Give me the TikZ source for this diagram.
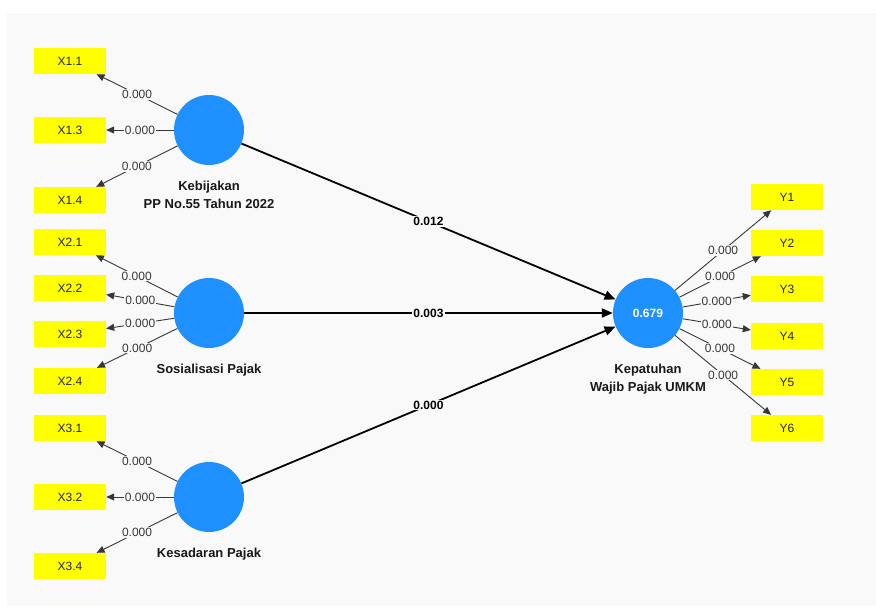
\documentclass[tikz,border=0pt]{standalone}
\usepackage{fontspec}
\setmainfont{Liberation Sans}
\usetikzlibrary{positioning, arrows.meta}
\definecolor{panelgray}{RGB}{249, 249, 249}
\definecolor{lvblue}{RGB}{30, 144, 255}
\definecolor{itemyellow}{RGB}{255, 255, 0}
\definecolor{loadgray}{RGB}{55, 55, 55}

\begin{document}
\begin{tikzpicture}[
    x=1pt, y=-1pt,
    node distance=16pt,
    latent/.style={
        circle,
        fill=lvblue,
        minimum size=70pt,
        inner sep=0pt,
        text=white,
        font=\fontsize{12}{14}\selectfont\bfseries
    },
    indicator/.style={
        rectangle,
        fill=itemyellow,
        minimum width=72pt,
        minimum height=26pt,
        inner sep=0pt,
        text=black!85,
        font=\fontsize{12}{14}\selectfont
    },
    lvlabel/.style={text=black!90, inner sep=0pt, align=center, font=\fontsize{13}{18}\selectfont\bfseries},
    loadarrow/.style={draw=loadgray, line width=0.9pt, -{Triangle[length=8pt, width=7pt]}},
    patharrow/.style={draw=black, line width=1.8pt, -{Triangle[length=11pt, width=9pt]}},
    loadlabel/.style={fill=panelgray, inner sep=1pt, text=loadgray, font=\fontsize{12}{14}\selectfont},
    pathlabel/.style={fill=panelgray, inner sep=1pt, text=black, font=\fontsize{12}{14}\selectfont\bfseries}
]

    \useasboundingbox (0,0) rectangle (876,606);
    \fill[panelgray] (7,13) rectangle (876,606);

    % --- Latent variables ---
    \node[latent] (kb) at (209,130) {};
    \node[latent] (sp) at (209,313) {};
    \node[latent] (kp) at (209,497) {};
    \node[latent] (kw) at (648,313) {0.679};

    \node[lvlabel, below=of kb] (kblabel) {Kebijakan\\PP No.55 Tahun 2022};
    \node[lvlabel, below=of sp] (splabel) {Sosialisasi Pajak};
    \node[lvlabel, below=of kp] (kplabel) {Kesadaran Pajak};
    \node[lvlabel, below=of kw] (kwlabel) {Kepatuhan\\Wajib Pajak UMKM};

    % --- Indicators X ---
    \node[indicator] (x11) at (70,61) {X1.1};
    \node[indicator] (x13) at (70,130) {X1.3};
    \node[indicator] (x14) at (70,200) {X1.4};

    \node[indicator] (x21) at (70,242) {X2.1};
    \node[indicator] (x22) at (70,288) {X2.2};
    \node[indicator] (x23) at (70,334) {X2.3};
    \node[indicator] (x24) at (70,381) {X2.4};

    \node[indicator] (x31) at (70,428) {X3.1};
    \node[indicator] (x32) at (70,497) {X3.2};
    \node[indicator] (x34) at (70,566) {X3.4};

    % --- Indicators Y ---
    \node[indicator] (y1) at (787,197) {Y1};
    \node[indicator] (y2) at (787,243) {Y2};
    \node[indicator] (y3) at (787,289) {Y3};
    \node[indicator] (y4) at (787,336) {Y4};
    \node[indicator] (y5) at (787,382) {Y5};
    \node[indicator] (y6) at (787,428) {Y6};

    % Loadings
    \draw[loadarrow] (kb) -- node[loadlabel] {0.000} (x11);
    \draw[loadarrow] (kb) -- node[loadlabel] {0.000} (x13);
    \draw[loadarrow] (kb) -- node[loadlabel] {0.000} (x14);

    \draw[loadarrow] (sp) -- node[loadlabel] {0.000} (x21);
    \draw[loadarrow] (sp) -- node[loadlabel] {0.000} (x22);
    \draw[loadarrow] (sp) -- node[loadlabel] {0.000} (x23);
    \draw[loadarrow] (sp) -- node[loadlabel] {0.000} (x24);

    \draw[loadarrow] (kp) -- node[loadlabel] {0.000} (x31);
    \draw[loadarrow] (kp) -- node[loadlabel] {0.000} (x32);
    \draw[loadarrow] (kp) -- node[loadlabel] {0.000} (x34);

    \draw[loadarrow] (kw) -- node[loadlabel] {0.000} (y1);
    \draw[loadarrow] (kw) -- node[loadlabel] {0.000} (y2);
    \draw[loadarrow] (kw) -- node[loadlabel] {0.000} (y3);
    \draw[loadarrow] (kw) -- node[loadlabel] {0.000} (y4);
    \draw[loadarrow] (kw) -- node[loadlabel] {0.000} (y5);
    \draw[loadarrow] (kw) -- node[loadlabel] {0.000} (y6);

    % Paths
    \draw[patharrow] (kb) -- node[pathlabel] {0.012} (kw);
    \draw[patharrow] (sp) -- node[pathlabel] {0.003} (kw);
    \draw[patharrow] (kp) -- node[pathlabel] {0.000} (kw);

\end{tikzpicture}
\end{document}
